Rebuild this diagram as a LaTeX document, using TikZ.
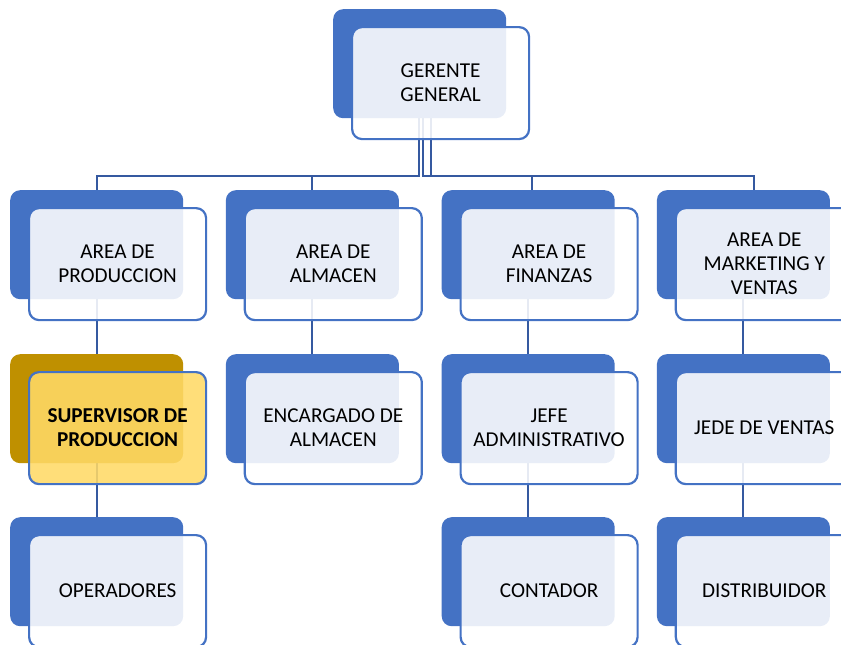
\documentclass[tikz,border=0pt]{standalone}
\usepackage{fontspec}
\setmainfont{Carlito}
\definecolor{acc}{HTML}{4472C4}
\definecolor{conncol}{HTML}{3559A0}
\definecolor{goldback}{HTML}{BF9000}
\definecolor{goldfront}{HTML}{FFD966}
\pgfdeclarelayer{bg}
\pgfsetlayers{bg,main}
\tikzset{
  backbox/.style={rectangle, rounded corners=10pt, fill=acc, minimum width=173pt, minimum height=109pt, anchor=north west, inner sep=0pt},
  frontbox/.style={rectangle, rounded corners=10pt, draw=acc, line width=2.2pt, fill=white, fill opacity=0.88, text opacity=1, minimum width=177pt, minimum height=112pt, anchor=north west, align=center, font=\fontsize{21.2}{24}\selectfont, text=black, inner sep=4pt},
  goldbackbox/.style={backbox, fill=goldback},
  goldfrontbox/.style={frontbox, fill=goldfront, font=\fontsize{21.2}{24}\selectfont\bfseries},
  conn/.style={draw=conncol, line width=2pt},
}
\newcommand{\obox}[4]{%
  \node[backbox] (#1b) at (#2,#3) {};
  \node[frontbox] (#1) at ([xshift=18pt,yshift=-17pt]#1b.north west) {#4};}
\begin{document}
\begin{tikzpicture}[x=1pt,y=-1pt]
\useasboundingbox (0,0) rectangle (841,645);
\obox{gg}{333}{9}{GERENTE\\GENERAL}
\obox{a1}{10}{190}{AREA DE\\PRODUCCION}
\obox{a2}{225.7}{190}{AREA DE\\ALMACEN}
\obox{a3}{441.5}{190}{AREA DE\\FINANZAS}
\obox{a4}{656.7}{190}{AREA DE\\MARKETING Y\\VENTAS}
\node[goldbackbox] (b1b) at (10,354) {};
\node[goldfrontbox] (b1) at ([xshift=18pt,yshift=-17pt]b1b.north west) {SUPERVISOR DE\\PRODUCCION};
\obox{b2}{225.7}{354}{ENCARGADO DE\\ALMACEN}
\obox{b3}{441.5}{354}{JEFE\\ADMINISTRATIVO}
\obox{b4}{656.7}{354}{JEDE DE VENTAS}
\obox{c1}{10}{517}{OPERADORES}
\obox{c3}{441.5}{517}{CONTADOR}
\obox{c4}{656.7}{517}{DISTRIBUIDOR}
\begin{pgfonlayer}{bg}
  \coordinate (bus) at (0,176);
  \draw[conn] ([xshift=-1pt]ggb.south) -- ([xshift=-1pt]ggb.south |- bus) -| ([xshift=0.5pt]a1b.north);
  \draw[conn] ([xshift=-1pt]ggb.south) -- ([xshift=-1pt]ggb.south |- bus) -| (a2b.north);
  \draw[conn] ([xshift=3.3pt]ggb.south) -- ([xshift=3.3pt]ggb.south |- bus) -| ([xshift=3.7pt]a3b.north);
  \draw[conn] ([xshift=11.7pt]ggb.south) -- ([xshift=11.7pt]ggb.south |- bus) -| ([xshift=10.8pt]a4b.north);
  \draw[conn] (a1b.south) -- (b1b.north);
  \draw[conn] (a2b.south) -- (b2b.north);
  \draw[conn] (a3b.south) -- (b3b.north);
  \draw[conn] (a4b.south) -- (b4b.north);
  \draw[conn] (b1b.south) -- (c1b.north);
  \draw[conn] (b3b.south) -- (c3b.north);
  \draw[conn] (b4b.south) -- (c4b.north);
\end{pgfonlayer}
\end{tikzpicture}
\end{document}
